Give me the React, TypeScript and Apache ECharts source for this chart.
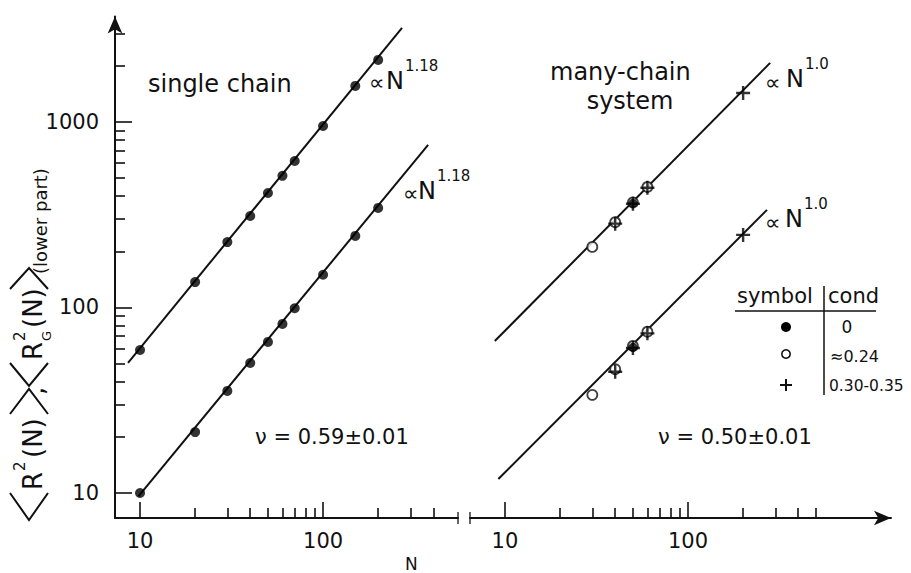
import React, { useEffect, useRef } from "react";
import * as echarts from "echarts";

// ---- axis ranges ----
const Y_MIN = 7.33;
const Y_MAX = 3700;
const X_LEFT_MIN = 7.3;
const X_LEFT_MAX = 546;
const X_RIGHT_MIN = 6.44;
const X_RIGHT_MAX = 1285;

// ---- tick values and labels ----
const xLabels = [10, 100];
const yLabels = [10, 100, 1000];
const xTicksLeftMajor = [10, 100];
const xTicksLeftMinor = [20, 30, 40, 50, 60, 70, 80, 90, 200, 300, 400];
const xTicksRightMajor = [10, 100];
const xTicksRightMinor = [20, 30, 40, 50, 60, 70, 80, 90, 200, 300, 400, 500];
const yTicksMajor = [10, 100, 1000];
const yTicksMinor = [20, 30, 40, 50, 60, 70, 80, 90, 200, 300, 400, 500, 600, 700, 800, 900, 2000, 3000];

// ---- single chain data ----
const singleN = [10, 20, 30, 40, 50, 60, 70, 100, 150, 200];
const singleR2 = [59, 137, 225, 311, 414, 512, 616, 951, 1564, 2159];
const singleRg2 = [10, 21.3, 35.5, 50.2, 65.2, 81.5, 99, 150, 243, 344];
const singleR2FitN = [8.6, 270];
const singleR2FitY = [50.3, 3212];
const singleRg2FitN = [9.8, 375];
const singleRg2FitY = [9.6, 752];

// ---- many-chain data ----
const manyOpenN = [30, 40, 50, 60];
const manyOpenR2 = [212, 288, 368, 446];
const manyOpenRg2 = [33.8, 46.5, 62, 74];
const manyFilledN = [50];
const manyFilledR2 = [364];
const manyFilledRg2 = [61];
const manyPlusN = [40, 50, 60, 200];
const manyPlusR2 = [283, 362, 442, 1433];
const manyPlusRg2 = [45, 60.5, 72.5, 246];
const manyR2FitN = [8.8, 281];
const manyR2FitY = [65.9, 2080];
const manyRg2FitN = [9.2, 270];
const manyRg2FitY = [11.9, 335.5];

const INK = "#111";
const FONT = "'DejaVu Sans', 'Liberation Sans', sans-serif";
const GRID0_WIDTH = 343;

const zip = (xs: number[], ys: number[]) => xs.map((x, i) => [x, ys[i]]);

const PLUS = "path://M5,0 L5,10 M0,5 L10,5";

function labelFormatter(list: number[]) {
  return (v: number) => {
    const r = Math.round(v);
    return list.includes(r) ? String(r) : "";
  };
}

function fitLine(xi: number, yi: number, xs: number[], ys: number[]) {
  return {
    type: "line",
    xAxisIndex: xi,
    yAxisIndex: yi,
    data: zip(xs, ys),
    symbol: "none",
    silent: true,
    lineStyle: { color: INK, width: 2 },
    z: 2,
  };
}
function filled(xi: number, yi: number, xs: number[], ys: number[], size = 10) {
  return {
    type: "scatter",
    xAxisIndex: xi,
    yAxisIndex: yi,
    data: zip(xs, ys),
    symbol: "circle",
    symbolSize: size,
    itemStyle: { color: "#000" },
    silent: true,
    z: 4,
  };
}
function open(xi: number, yi: number, xs: number[], ys: number[]) {
  return {
    type: "scatter",
    xAxisIndex: xi,
    yAxisIndex: yi,
    data: zip(xs, ys),
    symbol: "circle",
    symbolSize: 10,
    itemStyle: { color: "#fff", borderColor: INK, borderWidth: 1.8 },
    silent: true,
    z: 3,
  };
}
function plus(xi: number, yi: number, xs: number[], ys: number[]) {
  return {
    type: "scatter",
    xAxisIndex: xi,
    yAxisIndex: yi,
    data: zip(xs, ys),
    symbol: PLUS,
    symbolSize: 14,
    itemStyle: { color: "none", borderColor: "#000", borderWidth: 2.4 },
    silent: true,
    z: 5,
  };
}

// short mark across the x axis where the axis is broken
function breakMark(xi: number, yi: number, x: number) {
  return {
    type: "scatter",
    xAxisIndex: xi,
    yAxisIndex: yi,
    silent: true,
    clip: false,
    z: 6,
    data: [[x, Y_MIN]],
    symbol: "rect",
    symbolSize: [1.6, 12],
    itemStyle: { color: INK },
  };
}

function txt(text: string, x: number, y: number, size: number, align = "left", extra: any = {}) {
  return {
    type: "text",
    x,
    y,
    silent: true,
    style: {
      text,
      fontSize: size,
      fontFamily: FONT,
      fill: INK,
      align,
      textAlign: align,
      verticalAlign: "middle",
      textVerticalAlign: "middle",
      ...extra,
    },
  };
}

function bracket(points: number[][]) {
  return {
    type: "polyline",
    shape: { points },
    style: { stroke: INK, lineWidth: 2, fill: "none" },
  };
}

function buildOption() {
  const axisLabel = {
    fontSize: 21,
    fontFamily: FONT,
    color: INK,
  };
  const tickStyle = { color: INK, width: 1.6 };

  const xAxisBase = (grid: number, min: number, max: number) => ({
    type: "log",
    gridIndex: grid,
    position: "bottom",
    offset: 0,
    min,
    max,
    splitLine: { show: false },
    minorTick: { show: false },
  });

  // tick-only y axes: placed on the right side of the left grid and shifted
  // back onto the main y axis, with ticks pointing outward (to the right)
  const yTickAxis = (values: number[], len: number) => ({
    type: "log",
    gridIndex: 0,
    position: "right",
    offset: -GRID0_WIDTH,
    min: Y_MIN,
    max: Y_MAX,
    splitLine: { show: false },
    minorTick: { show: false },
    axisLine: { show: false },
    axisLabel: { show: false },
    axisTick: { show: true, inside: false, length: len, lineStyle: tickStyle, customValues: values },
  });

  const titleGroup = {
    type: "group",
    x: 45,
    y: 520,
    rotation: Math.PI / 2,
    silent: true,
    children: [
      bracket([[27, -35], [0, -16], [27, 3]]),
      txt("R", 30, -12, 26),
      txt("2", 49, -25, 15),
      txt("(N)", 62, -12, 26),
      bracket([[106, -35], [131, -16], [106, 3]]),
      txt(",", 125, -10, 26),
      bracket([[157, -35], [134, -16], [157, 3]]),
      txt("R", 160, -12, 26),
      txt("2", 179, -25, 15),
      txt("G", 179, 1, 13),
      txt("(N)", 192, -12, 26),
      bracket([[231, -35], [252, -16], [231, 3]]),
      txt("(lower part)", 246, -5, 18),
    ],
  };

  return {
    animation: false,
    backgroundColor: "#fff",
    grid: [
      { left: 115, top: 16.5, width: GRID0_WIDTH, height: 501.5 },
      { left: 470, top: 16.5, width: 421, height: 501.5 },
    ],
    xAxis: [
      // 0: left panel, major ticks + labels
      {
        ...xAxisBase(0, X_LEFT_MIN, X_LEFT_MAX),
        axisLine: { show: true, lineStyle: { color: INK, width: 2 } },
        axisTick: { show: true, inside: true, length: 16, lineStyle: tickStyle, customValues: xTicksLeftMajor },
        axisLabel: { ...axisLabel, margin: 12, customValues: xLabels, formatter: labelFormatter(xLabels) },
      },
      // 1: right panel, major ticks + labels
      {
        ...xAxisBase(1, X_RIGHT_MIN, X_RIGHT_MAX),
        axisLine: {
          show: true,
          symbol: ["none", "arrow"],
          symbolSize: [11, 17],
          lineStyle: { color: INK, width: 2 },
        },
        axisTick: { show: true, inside: true, length: 16, lineStyle: tickStyle, customValues: xTicksRightMajor },
        axisLabel: { ...axisLabel, margin: 12, customValues: xLabels, formatter: labelFormatter(xLabels) },
      },
      // 2: left panel, minor ticks
      {
        ...xAxisBase(0, X_LEFT_MIN, X_LEFT_MAX),
        axisLine: { show: false },
        axisTick: { show: true, inside: true, length: 10, lineStyle: tickStyle, customValues: xTicksLeftMinor },
        axisLabel: { show: false },
      },
      // 3: right panel, minor ticks
      {
        ...xAxisBase(1, X_RIGHT_MIN, X_RIGHT_MAX),
        axisLine: { show: false },
        axisTick: { show: true, inside: true, length: 10, lineStyle: tickStyle, customValues: xTicksRightMinor },
        axisLabel: { show: false },
      },
    ],
    yAxis: [
      // 0: main y axis (line, arrow, labels)
      {
        type: "log",
        gridIndex: 0,
        position: "left",
        min: Y_MIN,
        max: Y_MAX,
        splitLine: { show: false },
        minorTick: { show: false },
        axisLine: {
          show: true,
          symbol: ["none", "arrow"],
          symbolSize: [11, 17],
          lineStyle: { color: INK, width: 2 },
        },
        axisTick: { show: false },
        axisLabel: { ...axisLabel, margin: 16, customValues: yLabels, formatter: labelFormatter(yLabels) },
      },
      // 1: right panel (hidden)
      {
        type: "log",
        gridIndex: 1,
        min: Y_MIN,
        max: Y_MAX,
        show: false,
        splitLine: { show: false },
      },
      // 2: minor y ticks
      yTickAxis(yTicksMinor, 10),
      // 3: major y ticks
      yTickAxis(yTicksMajor, 17),
    ],
    series: [
      fitLine(0, 0, singleR2FitN, singleR2FitY),
      fitLine(0, 0, singleRg2FitN, singleRg2FitY),
      filled(0, 0, singleN, singleR2),
      filled(0, 0, singleN, singleRg2),
      fitLine(1, 1, manyR2FitN, manyR2FitY),
      fitLine(1, 1, manyRg2FitN, manyRg2FitY),
      open(1, 1, manyOpenN, manyOpenR2),
      open(1, 1, manyOpenN, manyOpenRg2),
      filled(1, 1, manyFilledN, manyFilledR2, 9),
      filled(1, 1, manyFilledN, manyFilledRg2, 9),
      plus(1, 1, manyPlusN, manyPlusR2),
      plus(1, 1, manyPlusN, manyPlusRg2),
      breakMark(0, 0, X_LEFT_MAX),
      breakMark(1, 1, X_RIGHT_MIN),
    ],
    graphic: [
      titleGroup,
      txt("single chain", 148, 84, 24),
      txt("many-chain", 550, 72, 24),
      txt("system", 630, 101, 24, "center"),
      // power-law annotations
      txt("\u221d", 369, 82, 22),
      txt("N", 386, 81, 24),
      txt("1.18", 405, 66, 15),
      txt("\u221d", 403, 193, 22),
      txt("N", 418, 191, 24),
      txt("1.18", 437, 176, 15),
      txt("\u221d", 765, 82, 22),
      txt("N", 786, 79, 24),
      txt("1.0", 805, 64, 15),
      txt("\u221d", 765, 222, 22),
      txt("N", 785, 219, 24),
      txt("1.0", 804, 204, 15),
      // exponents
      txt("\u03bd = 0.59\u00b10.01", 255, 437, 21),
      txt("\u03bd = 0.50\u00b10.01", 658, 437, 21),
      // legend table
      txt("symbol", 737, 296, 21),
      txt("cond", 828, 296, 21),
      { type: "line", silent: true, shape: { x1: 735, y1: 311, x2: 876, y2: 311 }, style: { stroke: INK, lineWidth: 1.5 } },
      { type: "line", silent: true, shape: { x1: 824, y1: 286, x2: 824, y2: 395 }, style: { stroke: INK, lineWidth: 1.5 } },
      { type: "circle", silent: true, shape: { cx: 786, cy: 327, r: 5 }, style: { fill: "#000" } },
      txt("0", 847, 327, 17, "center"),
      { type: "circle", silent: true, shape: { cx: 786, cy: 354, r: 4.2 }, style: { fill: "#fff", stroke: INK, lineWidth: 1.6 } },
      txt("\u22480.24", 830, 356, 16),
      { type: "line", silent: true, shape: { x1: 780, y1: 385, x2: 792, y2: 385 }, style: { stroke: INK, lineWidth: 2 } },
      { type: "line", silent: true, shape: { x1: 786, y1: 379, x2: 786, y2: 391 }, style: { stroke: INK, lineWidth: 2 } },
      txt("0.30-0.35", 829, 386, 15.5),
      // axis name
      txt("N", 405, 572, 17, "left", { verticalAlign: "bottom", textVerticalAlign: "bottom" }),
    ],
  };
}

export default function App() {
  const ref = useRef<HTMLDivElement>(null);
  useEffect(() => {
    document.body.style.margin = "0";
    const chart = echarts.init(ref.current!, null, { renderer: "svg" });
    chart.setOption(buildOption() as any);
    return () => chart.dispose();
  }, []);
  return <div ref={ref} style={{ width: 911, height: 573, background: "#fff" }} />;
}
